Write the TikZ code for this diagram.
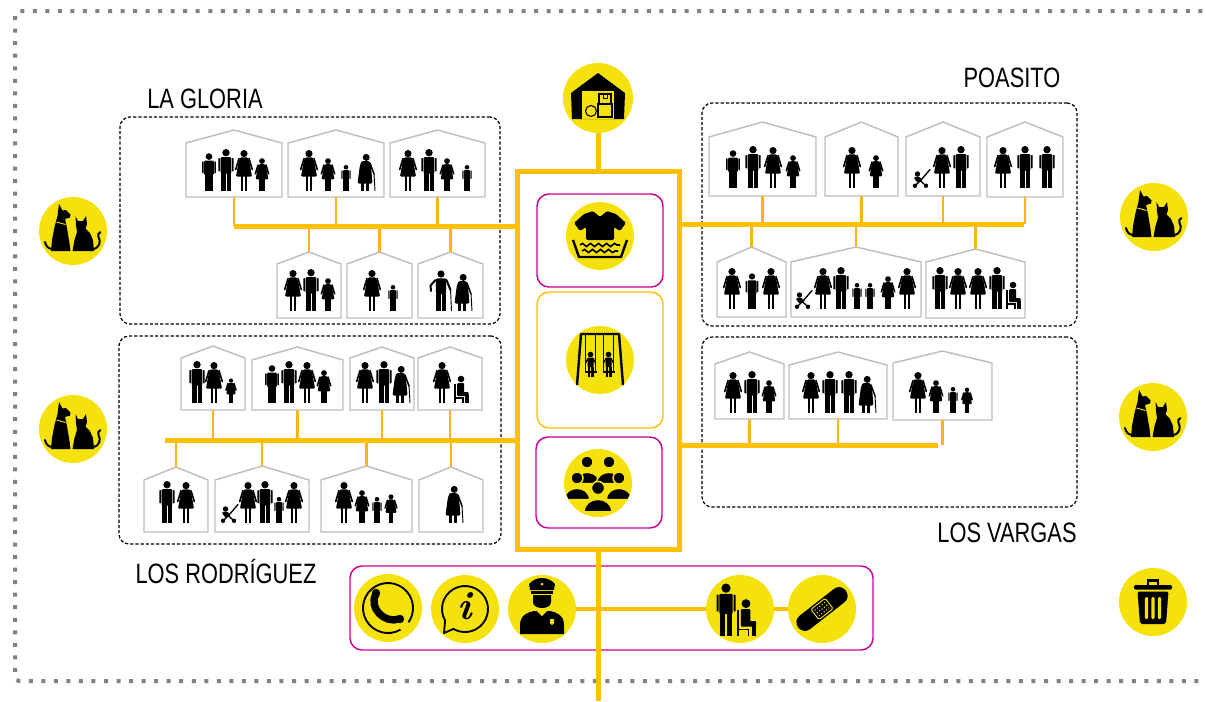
\documentclass[tikz,border=0pt]{standalone}
\usepackage{fontspec}
\newfontfamily\lblfont[FakeStretch=0.78]{Liberation Sans}
\usetikzlibrary{decorations.pathmorphing}

\definecolor{badgeY}{RGB}{245,226,12}
\definecolor{busY}{RGB}{255,192,0}
\definecolor{dropY}{RGB}{255,178,28}
\definecolor{frameM}{RGB}{204,0,153}
\definecolor{hutG}{RGB}{190,190,190}
\definecolor{borderG}{RGB}{130,130,130}

% house outline: name, left x, right x, ridge y, eave y, floor y
\newcommand\drawhut[6]{%
  \draw[hut] (#2,#6) -- (#2,#5) -- ({(#2+#3)/2},#4) -- (#3,#5) -- (#3,#6) -- cycle;
  \coordinate (#1t) at ({(#2+#3)/2},#4);
  \coordinate (#1b) at ({(#2+#3)/2},#6);}

% head-and-shoulders silhouette: x, y, head radius
\newcommand\bustshape[3]{%
  \filldraw[draw=badgeY, line width=1.1pt] ({#1-2.1*#3},{#2+3.6*#3}) .. controls ({#1-2.1*#3},{#2+1.1*#3}) and ({#1+2.1*#3},{#2+1.1*#3}) .. ({#1+2.1*#3},{#2+3.6*#3}) -- cycle;
  \filldraw[draw=badgeY, line width=1.1pt] (#1,#2) circle (#3);}

\tikzset{
  % people pictograms, origin between the feet
  man/.pic={
    \fill (0,-38.3) circle (3.7);
    \fill[rounded corners=0.8pt] (-5.3,-33.8) rectangle (5.3,-17.5);
    \fill[rounded corners=0.6pt] (-7.6,-33.2) rectangle (-6,-19.5);
    \fill[rounded corners=0.6pt] (6,-33.2) rectangle (7.6,-19.5);
    \fill (-4.7,-18) rectangle (-0.5,0);
    \fill (0.5,-18) rectangle (4.7,0);
  },
  woman/.pic={
    \fill (0,-37.4) circle (3.6);
    \fill[rounded corners=0.8pt] (-3.8,-33.6) -- (3.8,-33.6) -- (5.4,-29) -- (8,-14.5) -- (-8,-14.5) -- (-5.4,-29) -- cycle;
    \draw[line width=1.2pt, line cap=round] (-5,-32.5) -- (-8.3,-21.5);
    \draw[line width=1.2pt, line cap=round] (5,-32.5) -- (8.3,-21.5);
    \fill (-3.4,-15) rectangle (-0.6,0);
    \fill (0.6,-15) rectangle (3.4,0);
  },
  grandma/.pic={
    \fill (1.2,-33.6) circle (3.5);
    \fill[rounded corners=1pt] (-3.4,-30) -- (4.4,-30) -- (6,-25) -- (7.5,-7.5) -- (-7.5,-7.5) -- (-5.2,-25) -- cycle;
    \fill (-3.6,-8) rectangle (-1,0);
    \fill (1,-8) rectangle (3.6,0);
    \draw[line width=1.1pt, line cap=round] (5,-28) -- (9,-17);
    \draw[line width=0.7pt] (9,-17.5) -- (10,0);
  },
  grandpa/.pic={
    \fill (0,-37) circle (3.6);
    \fill[rounded corners=0.8pt] (-5.2,-32.6) rectangle (5.2,-17);
    \draw[line width=1.5pt, line cap=round, line join=round] (-5.5,-31) -- (-10.5,-25.5) -- (-10,-20);
    \draw[line width=1.5pt, line cap=round] (5.5,-31) -- (9.5,-21);
    \draw[line width=0.7pt] (9.5,-22) -- (10.5,0);
    \fill (-4.6,-17.5) rectangle (-0.5,0);
    \fill (0.5,-17.5) rectangle (4.6,0);
  },
  stroller/.pic={
    \fill (-7,-2.2) circle (2.2);
    \fill (4,-2.2) circle (2.2);
    \draw[line width=1pt] (-7,-2.2) -- (-1,-8);
    \draw[line width=1pt] (4,-2.2) -- (-3,-8.5);
    \fill (-4.5,-14) circle (2.7);
    \fill[rounded corners=1pt] (-8.5,-11) -- (-2.5,-11.5) -- (1,-6.5) -- (-5,-5.5) -- cycle;
    \draw[line width=1pt, line cap=round] (-1,-8) -- (8,-18.5);
  },
  seated/.pic={
    \fill (0,-24) circle (3.3);
    \fill[rounded corners=0.8pt] (-3.8,-20) rectangle (3.2,-8.5);
    \fill[rounded corners=0.6pt] (-3.8,-11) rectangle (7.5,-7);
    \fill (4.4,-8) rectangle (7.5,0);
    \draw[line width=0.9pt] (-6,-19) -- (-6,0);
    \draw[line width=0.9pt] (-6,-5) -- (2,-5) -- (2,0);
  },
  % badge glyphs, origin at the badge centre
  storeicon/.pic={
    \fill[line join=round] (-27,-5) -- (0,-25) -- (27,-5) -- (26,21) -- (-26,21) -- cycle;
    \fill[badgeY] (-16,-7) rectangle (16,21);
    \draw[line width=0.8pt] (1,-4) rectangle (13,6);
    \draw[line width=0.8pt] (0,6) rectangle (14,19);
    \draw[line width=0.8pt] (-7,13) circle (5.5);
    \draw[line width=0.6pt] (5,-4) -- (5,0) -- (9,0) -- (9,-4);
  },
  washicon/.pic={
    \fill[rounded corners=1pt] (-7,-25) -- (-16,-22) -- (-26,-13) -- (-20,-5) -- (-14,-9) -- (-14,4) -- (14,4) -- (14,-9) -- (20,-5) -- (26,-13) -- (16,-22) -- (7,-25) -- (0,-19) -- cycle;
    \draw[line width=1.8pt, line join=round] (-27,4) -- (-21,21) -- (21,21) -- (27,4);
    \draw[line width=1.2pt, decorate, decoration={snake, amplitude=1.2pt, segment length=6pt}] (-20,9) -- (20,9);
    \draw[line width=1.2pt, decorate, decoration={snake, amplitude=1.2pt, segment length=6pt}] (-18,15) -- (18,15);
  },
  swingicon/.pic={
    \draw[line width=1.8pt, line join=round] (-23,25) -- (-19,-26) -- (19,-26) -- (23,25);
    \foreach \xx in {-9.5,8.5} {
      \draw[line width=0.6pt] ({\xx-5},-26) -- ({\xx-5},12);
      \draw[line width=0.6pt] ({\xx+5},-26) -- ({\xx+5},12);
      \fill (\xx,-5.5) circle (2.8);
      \fill[rounded corners=0.6pt] ({\xx-3},-2.5) rectangle ({\xx+3},7);
      \draw[line width=1pt] ({\xx-2.5},-1.5) -- ({\xx-5},3);
      \draw[line width=1pt] ({\xx+2.5},-1.5) -- ({\xx+5},3);
      \fill ({\xx-6},11) rectangle ({\xx+6},13);
      \fill ({\xx-3},7) rectangle ({\xx-0.7},17);
      \fill ({\xx+0.7},7) rectangle ({\xx+3},17);
    }
  },
  groupicon/.pic={
    \begin{scope}
      \clip (0,0) circle (33.5);
      \bustshape{-11}{-21}{6}
      \bustshape{11}{-21}{6}
      \bustshape{-21}{-5}{6}
      \bustshape{21}{-5}{6}
      \bustshape{0}{5}{6.6}
    \end{scope}
  },
  phoneicon/.pic={
    \draw[line width=1.4pt] (60:25) arc[start angle=60, end angle=395, radius=25];
    \draw[line width=5.5pt, line cap=round] (-12,-14) .. controls (-20,0) and (-3,16) .. (11,11);
    \fill (-12,-15) circle (4.2);
    \fill (12,11) circle (4.2);
  },
  infoicon/.pic={
    \draw[line width=1.4pt, line join=round] (150:23) arc[start angle=150, end angle=480, radius=23] -- (-21,24) -- cycle;
  },
  policeicon/.pic={
    \fill (-22,25) -- (-22,16) .. controls (-22,6) and (-14,3) .. (-8,2) -- (8,2) .. controls (14,3) and (22,6) .. (22,16) -- (22,25) -- cycle;
    \fill[badgeY] (-5,2) -- (5,2) -- (0,7) -- cycle;
    \fill (-9,-14) -- (9,-14) -- (9,-7) .. controls (9,1) and (-9,1) .. (-9,-7) -- cycle;
    \fill (-12,-19) -- (-13,-25) .. controls (-6,-33) and (6,-33) .. (13,-25) -- (12,-19) -- cycle;
    \fill (-11,-18) rectangle (11,-15.5);
    \fill[badgeY] (0,-25) circle (1.5);
    \fill[badgeY] (8,10) -- (12,10) -- (12,14) -- (10,16) -- (8,14) -- cycle;
  },
  patienticon/.pic={
    \pic[scale=1.25] at (-14,27) {man};
    \pic[scale=1.35] at (6,27) {seated};
  },
  bandageicon/.pic={
    \begin{scope}[rotate=38]
      \fill[rounded corners=6pt] (-30,-8.5) rectangle (30,8.5);
      \draw[badgeY, line width=0.7pt, rounded corners=1pt] (-9,-6.5) rectangle (9,6.5);
      \foreach \xx in {-6,-3,0,3,6} \foreach \yy in {-3.5,0,3.5} \fill[badgeY] (\xx,\yy) circle (0.8);
    \end{scope}
  },
  petsicon/.pic={
    \fill[line join=round] (-14,-27) -- (-10.5,-20.5) -- (-7,-21) -- (-2.5,-16.5) -- (-3,-13.5) -- (-8,-12) -- (-6,-3) -- (-3.5,12) -- (-2.5,20) -- (-22,20) -- (-21,9) -- (-18.5,-4) -- (-15.5,-15) -- cycle;
    \draw[line width=1.5pt, line cap=round] (-20,18) .. controls (-25,18) and (-27,15) .. (-28,11);
    \draw[badgeY, line width=0.7pt] (-16.5,-9) -- (-7.5,-6.5);
    \fill[line join=round] (2.5,-15) -- (5,-10) -- (10,-10) -- (13,-15) -- (14,-7) -- (12.5,-2.5) -- (17,2) -- (20,9) -- (21,20) -- (-0.5,20) -- (1.5,9) -- (4,1) -- (3,-6) -- cycle;
    \draw[line width=1.5pt, line cap=round] (20,18) .. controls (27,17) and (28,10) .. (25.5,6) .. controls (24.5,4) and (25.5,1.5) .. (27.5,1);
  },
  trashicon/.pic={
    \fill[rounded corners=1pt] (-19,-17) rectangle (19,-12.5);
    \draw[line width=1.6pt] (-5,-17) -- (-5,-21.5) -- (5,-21.5) -- (5,-17);
    \fill[rounded corners=1.5pt] (-15.5,-10.5) -- (15.5,-10.5) -- (13,22) -- (-13,22) -- cycle;
    \foreach \xx in {-6.5,0,6.5} \fill[badgeY, rounded corners=1pt] ({\xx-1.6},-5) rectangle ({\xx+1.6},17);
  }
}

\begin{document}
\begin{tikzpicture}[x=0.75pt, y=-0.75pt,
  border/.style={draw=borderG, line width=3pt, dash pattern=on 3pt off 6.4pt, rounded corners=3pt},
  zone/.style={draw=black, line width=0.9pt, dash pattern=on 2.4pt off 1.5pt, rounded corners=7.5pt, inner sep=0},
  hut/.style={draw=hutG, line width=1.1pt, fill=white},
  bus/.style={draw=busY, line width=3.75pt},
  drop/.style={draw=dropY, line width=2.2pt},
  cell/.style={draw=frameM, line width=1.1pt, rounded corners=9pt, inner sep=0},
  badge/.style={circle, fill=badgeY, minimum size=51pt, inner sep=0},
  lbl/.style={font=\lblfont\fontsize{21}{21}\selectfont, inner sep=0}]

\useasboundingbox (0,0) rectangle (1206,701);
\clip (0,0) rectangle (1206,701);

% outer frame
\draw[border] (1240,11) -- (15,11) -- (15,681) -- (1240,681);

% neighbourhood zones
\node[zone, minimum width=285pt, minimum height=155.25pt] (gloria) at (310,220.5) {};
\node[zone, minimum width=281.25pt, minimum height=167.25pt] (poasito) at (889.5,214.5) {};
\node[zone, minimum width=286.5pt, minimum height=156pt] (rodriguez) at (310,440) {};
\node[zone, minimum width=281.25pt, minimum height=127.5pt] (vargas) at (889.5,422) {};

\node[lbl] (glorianame) at (205,99) {LA GLORIA};
\node[lbl] (poasitoname) at (1012,78) {POASITO};
\node[lbl] (rodriguezname) at (226,571) {LOS RODRÍGUEZ};
\node[lbl] (vargasname) at (1007,533) {LOS VARGAS};

% houses
\drawhut{lg1}{186}{282}{130}{143}{197}
\drawhut{lg2}{288}{384}{130}{143}{197}
\drawhut{lg3}{390}{485}{130}{143}{197}
\drawhut{lg4}{277}{341}{252}{264}{318}
\drawhut{lg5}{347}{412}{252}{264}{318}
\drawhut{lg6}{418}{483}{252}{264}{318}

\drawhut{po1}{709}{816}{122}{137}{196}
\drawhut{po2}{825}{898}{122}{137}{196}
\drawhut{po3}{906}{980}{122}{137}{196}
\drawhut{po4}{987}{1063}{122}{137}{197}
\drawhut{po5}{717}{786}{247}{262}{317}
\drawhut{po6}{791}{921}{247}{262}{317}
\drawhut{po7}{926}{1025}{249}{262}{318}

\drawhut{ro1}{181}{245}{346}{358}{410}
\drawhut{ro2}{252}{343}{347}{360}{410}
\drawhut{ro3}{350}{414}{347}{358}{410}
\drawhut{ro4}{418}{482}{347}{358}{410}
\drawhut{ro5}{144}{208}{467}{480}{532}
\drawhut{ro6}{215}{309}{466}{480}{532}
\drawhut{ro7}{321}{412}{466}{480}{532}
\drawhut{ro8}{419}{483}{467}{480}{532}

\drawhut{va1}{715}{784}{352}{364}{419}
\drawhut{va2}{789}{887}{352}{365}{419}
\drawhut{va3}{893}{992}{351}{363}{420}

% households: La Gloria
\pic[scale=.9] at (209,191) {man};
\pic at (226,191) {man};
\pic at (244,191) {woman};
\pic[scale=.8] at (262,191) {woman};
\pic at (309,191) {woman};
\pic[scale=.8] at (328,191) {woman};
\pic[scale=.62] at (346,191) {man};
\pic at (365,191) {grandma};
\pic at (408,191) {woman};
\pic at (429,191) {man};
\pic[scale=.8] at (447,191) {woman};
\pic[scale=.62] at (467,191) {man};
\pic at (293,311) {woman};
\pic at (311,311) {man};
\pic[scale=.8] at (328,311) {woman};
\pic at (372,311) {woman};
\pic[scale=.62] at (393,311) {man};
\pic at (441,311) {grandpa};
\pic at (462,311) {grandma};

% households: Poasito
\pic[scale=.9] at (733,188) {man};
\pic at (753,188) {man};
\pic at (773,188) {woman};
\pic[scale=.8] at (793,188) {woman};
\pic at (852,188) {woman};
\pic[scale=.8] at (876,188) {woman};
\pic at (922,188) {stroller};
\pic at (942,188) {woman};
\pic at (961,188) {man};
\pic at (1003,188) {woman};
\pic at (1025,188) {man};
\pic at (1047,188) {man};
\pic at (732,309) {woman};
\pic[scale=.85] at (752,309) {man};
\pic at (771,309) {woman};
\pic at (804,309) {stroller};
\pic at (823,309) {woman};
\pic at (841,309) {man};
\pic[scale=.62] at (857,309) {man};
\pic[scale=.62] at (870,309) {man};
\pic[scale=.8] at (888,309) {woman};
\pic at (907,309) {woman};
\pic at (940,309) {man};
\pic at (958,309) {woman};
\pic at (978,309) {woman};
\pic at (997,309) {man};
\pic at (1013,309) {seated};

% households: Los Rodríguez
\pic at (197,403) {man};
\pic at (214,403) {woman};
\pic[scale=.6] at (231,403) {woman};
\pic[scale=.9] at (272,403) {man};
\pic at (289,403) {man};
\pic at (307,403) {woman};
\pic[scale=.8] at (324,403) {woman};
\pic at (365,403) {woman};
\pic at (384,403) {man};
\pic at (400,403) {grandma};
\pic at (442,403) {woman};
\pic at (461,403) {seated};
\pic at (167,523) {man};
\pic at (186,523) {woman};
\pic at (230,523) {stroller};
\pic at (248,523) {woman};
\pic at (265,523) {man};
\pic[scale=.62] at (279,523) {man};
\pic at (294,523) {woman};
\pic at (344,523) {woman};
\pic[scale=.8] at (362,523) {woman};
\pic[scale=.62] at (377,523) {man};
\pic[scale=.7] at (391,523) {woman};
\pic at (453,523) {grandma};

% households: Los Vargas
\pic at (733,413) {woman};
\pic at (752,413) {man};
\pic[scale=.8] at (769,413) {woman};
\pic at (811,413) {woman};
\pic at (830,413) {man};
\pic at (849,413) {man};
\pic at (866,413) {grandma};
\pic at (918,413) {woman};
\pic[scale=.8] at (936,413) {woman};
\pic[scale=.62] at (953,413) {man};
\pic[scale=.62] at (967,413) {woman};

% central hub and its cells
\node[draw=busY, line width=3.75pt, minimum width=121.5pt, minimum height=283.5pt, inner sep=0] (hub) at (598,360) {};
\node[cell, minimum width=94.5pt, minimum height=69.75pt] (cellwash) at (600,240.5) {};
\node[cell, draw=busY, minimum width=94.5pt, minimum height=102pt] (cellplay) at (600,360) {};
\node[cell, minimum width=94.5pt, minimum height=68.25pt] (cellmeet) at (599,482.5) {};
\node[cell, minimum width=392.25pt, minimum height=63pt] (services) at (611.5,608) {};

% distribution lines
\coordinate (lgW) at (234,226);
\coordinate (poE) at (1024,224);
\coordinate (roW) at (165,440);
\coordinate (vaE) at (938,445);
\coordinate (tailend) at (598,701);

\foreach \h in {lg1,lg2,lg3} \draw[drop] (\h b) -- (\h b |- lgW);
\foreach \h in {lg4,lg5,lg6} \draw[drop] (\h t) -- (\h t |- lgW);
\foreach \h in {po1,po2,po3,po4} \draw[drop] (\h b) -- (\h b |- poE);
\foreach \h in {po5,po6,po7} \draw[drop] (\h t) -- (\h t |- poE);
\foreach \h in {ro1,ro2,ro3,ro4} \draw[drop] (\h b) -- (\h b |- roW);
\foreach \h in {ro5,ro6,ro7,ro8} \draw[drop] (\h t) -- (\h t |- roW);
\foreach \h in {va1,va2,va3} \draw[drop] (\h b) -- (\h b |- vaE);

\draw[bus] (lgW) -- (lgW -| hub.west);
\draw[bus] (poE) -- (poE -| hub.east);
\draw[bus] (roW) -- (roW -| hub.west);
\draw[bus] (vaE) -- (vaE -| hub.east);

% badges
\node[badge, minimum size=52.5pt] (store) at (598,98) {};
\node[badge] (wash) at (600,236) {};
\node[badge] (play) at (600,360) {};
\node[badge] (meet) at (598,483) {};
\node[badge] (phone) at (388,608) {};
\node[badge] (info) at (465,609) {};
\node[badge] (police) at (542,609) {};
\node[badge] (patient) at (740,609) {};
\node[badge] (bandage) at (822,609) {};
\node[badge] (petsWa) at (73,231) {};
\node[badge] (petsWb) at (73,429) {};
\node[badge] (petsEa) at (1154,217) {};
\node[badge] (petsEb) at (1153,417) {};
\node[badge] (trash) at (1153,602) {};

\draw[bus] (store.south) -- (hub.north);
\draw[bus] (hub.south) -- (tailend);
\draw[bus, line width=3pt] (police.east) -- (patient.west);
\draw[bus, line width=3pt] (patient.east) -- (bandage.west);

\pic at (store) {storeicon};
\pic at (wash) {washicon};
\pic at (play) {swingicon};
\pic at (meet) {groupicon};
\pic at (phone) {phoneicon};
\pic at (info) {infoicon};
\node[font=\fontsize{30}{30}\selectfont\bfseries\itshape, inner sep=0] (infoglyph) at (465,606) {i};
\pic at (police) {policeicon};
\pic at (patient) {patienticon};
\pic at (bandage) {bandageicon};
\pic at (petsWa) {petsicon};
\pic at (petsWb) {petsicon};
\pic at (petsEa) {petsicon};
\pic at (petsEb) {petsicon};
\pic at (trash) {trashicon};
\end{tikzpicture}
\end{document}
